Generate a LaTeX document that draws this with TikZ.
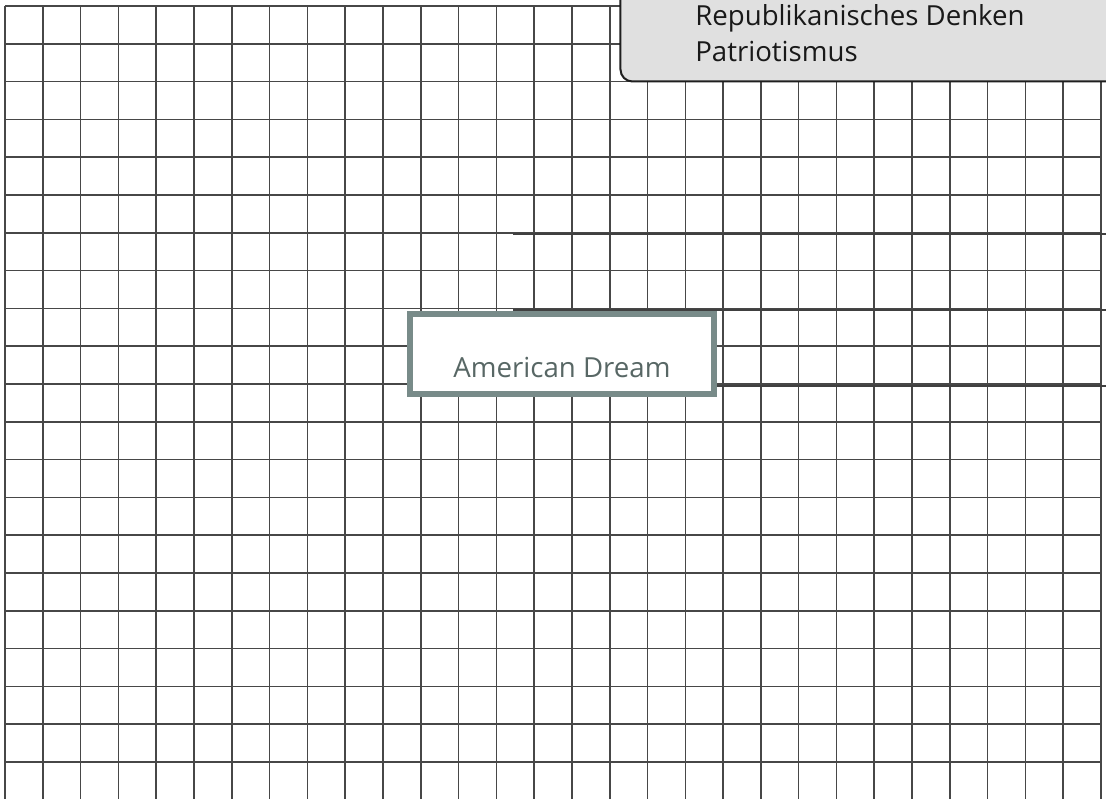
\documentclass[tikz,border=0pt]{standalone}
\usepackage{fontspec}
\setmainfont{Open Sans}
\usepackage{tikz}
\usetikzlibrary{arrows.meta}
\usepackage{xcolor}
\definecolor{dreamframe}{HTML}{788B89}
\definecolor{dreamtext}{HTML}{586765}
\definecolor{notefill}{HTML}{E0E0E0}

\begin{document}
\begin{tikzpicture}[line cap=butt,
  bigtext/.style={font=\fontsize{20.8}{26.8}\selectfont},
  link/.style={black!75,line width=1.8pt},
  dreambox/.style={draw=dreamframe,line width=4.5pt,fill=white,text=dreamtext,bigtext,
    inner sep=0pt,minimum width=8.043cm,text height=1.667cm,text depth=0.45cm},
  notetext/.style={bigtext,text=black!90,inner sep=0pt}]
\useasboundingbox (0,0) rectangle (29.263,-21.140);
\fill[white] (0,0) rectangle (29.263,-21.140);
\begin{scope}[shift={(0.132,-0.159)}]
\draw[black!72,line width=1.2pt] (0,0) grid (29,-20.98);
\end{scope}
\coordinate (startA) at (13.573,-6.191);
\coordinate (endA) at (30,-6.191);
\coordinate (startB) at (13.573,-8.202);
\coordinate (endB) at (30,-8.202);
\coordinate (endC) at (30,-10.213);
\draw[link] (startA) -- (endA);
\draw[link] (startB) -- (endB);
\draw[fill=notefill,draw=black!88,line width=1.5pt,rounded corners=9pt] (16.417,0.6) rectangle (30,-2.156);
\node[notetext,anchor=base west] (repub) at (18.389,-0.688) {Republikanisches Denken};
\node[notetext,anchor=base west] (patriot) at (18.389,-1.632) {Patriotismus};
\node[dreambox,anchor=base] (dream) at (14.870,-9.975) {American Dream};
\draw[link] (dream.east |- endC) -- (endC);
\end{tikzpicture}
\end{document}
